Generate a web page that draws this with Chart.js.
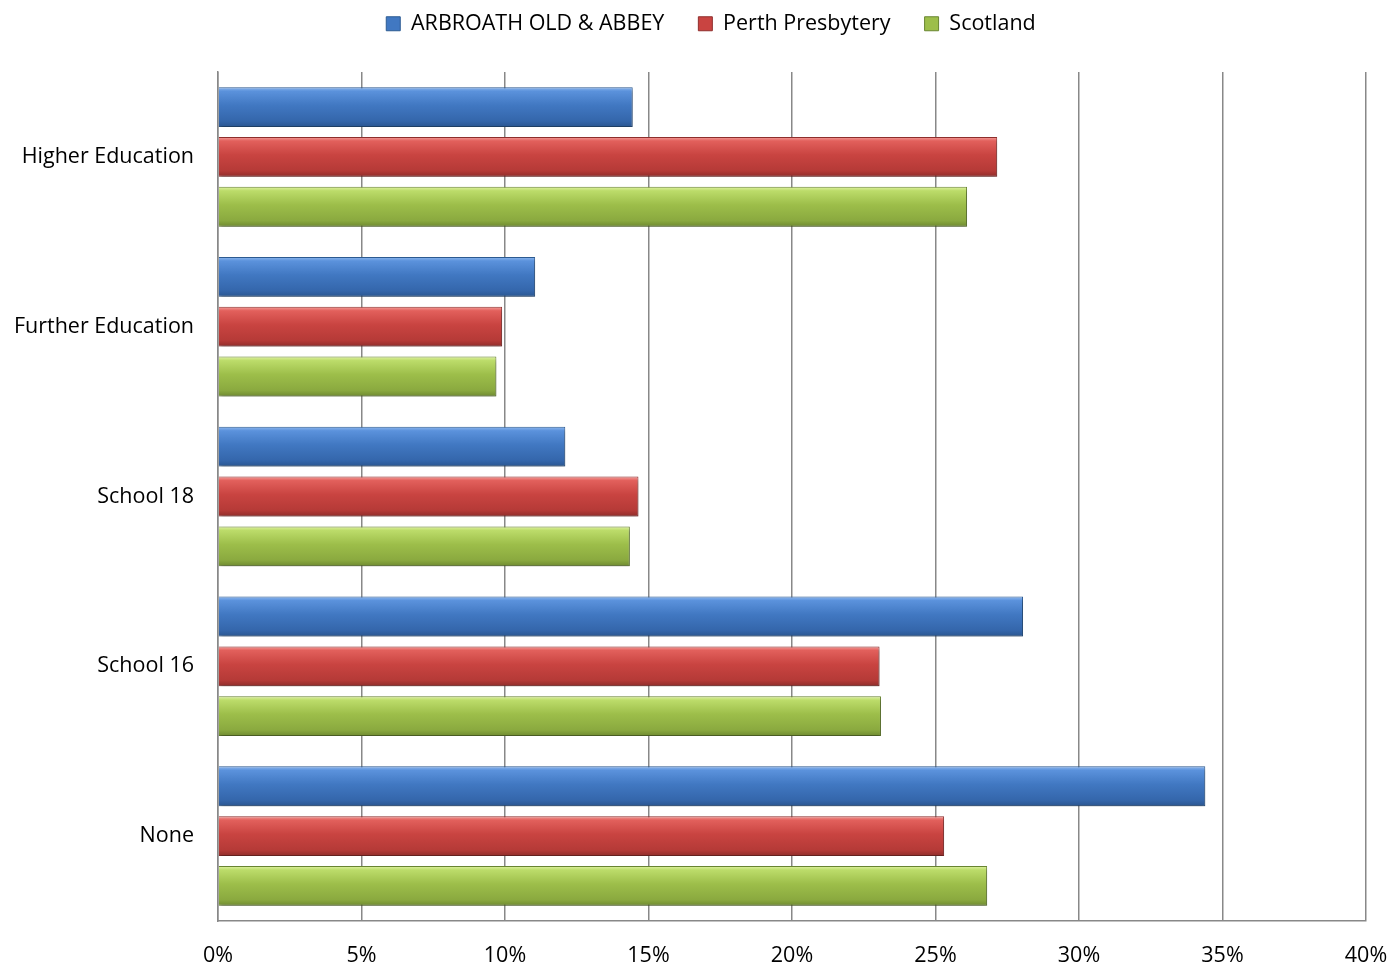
<!DOCTYPE html>
<html lang="en">
<head>
    <meta charset="UTF-8">
    <title>Education Levels</title>
    <script src="https://cdn.jsdelivr.net/npm/chart.js"></script>
    <style>
        html, body {
            margin: 0;
            padding: 0;
            background: #ffffff;
        }
        .chart-container {
            width: 1391px;
            height: 964px;
        }
    </style>
</head>
<body>
    <div class="chart-container">
        <canvas id="eduChart"></canvas>
    </div>

    <script>
        // Data
        const categories = ['Higher Education', 'Further Education', 'School 18', 'School 16', 'None'];
        const arbroath = [14.45, 11.05, 12.1, 28.05, 34.4];
        const perth = [27.15, 9.9, 14.65, 23.05, 25.3];
        const scotland = [26.1, 9.7, 14.35, 23.1, 26.8];
        const xTicks = [0, 5, 10, 15, 20, 25, 30, 35, 40];

        const catPct = 0.88;
        const barPct = 0.8;
        const fontSize = 21.5;

        // colour ramps for the bevelled bars: [top highlight, upper, middle, lower, bottom]
        const ramps = {
            blue: ['#8fb8ee', '#5b92dc', '#4178c2', '#3466ab', '#2a5690'],
            red: ['#f4a09d', '#e2605c', '#c94441', '#b53a37', '#8f2d2b'],
            green: ['#e0f2a4', '#bcdc6a', '#9dbe4a', '#8aa93f', '#6f8a31']
        };
        const borders = { blue: '#2d5b92', red: '#8f2f2d', green: '#6a8632' };
        const seriesKeys = ['blue', 'red', 'green'];

        function barFill(name) {
            return function (ctx) {
                const ramp = ramps[name];
                const yScale = ctx.chart.scales.y;
                if (ctx.type !== 'data' || !yScale || yScale.height === undefined) {
                    return ramp[2];
                }
                const center = yScale.getPixelForValue(ctx.dataIndex);
                const band = Math.abs(yScale.getPixelForValue(1) - yScale.getPixelForValue(0));
                const slot = band * catPct / 3;
                const mid = center + (ctx.datasetIndex - 1) * slot;
                const half = slot * barPct / 2;
                const g = ctx.chart.ctx.createLinearGradient(0, mid - half, 0, mid + half);
                g.addColorStop(0, ramp[0]);
                g.addColorStop(0.1, ramp[1]);
                g.addColorStop(0.45, ramp[2]);
                g.addColorStop(0.85, ramp[3]);
                g.addColorStop(1, ramp[4]);
                return g;
            };
        }

        // soft drop shadow under the bars
        const shadowPlugin = {
            id: 'barShadow',
            beforeDatasetsDraw(chart) {
                const c = chart.ctx;
                c.save();
                c.shadowColor = 'rgba(0, 0, 0, 0.35)';
                c.shadowBlur = 4;
                c.shadowOffsetX = 1;
                c.shadowOffsetY = 3;
            },
            afterDatasetsDraw(chart) {
                chart.ctx.restore();
            }
        };

        // fix the legend band height and nudge the legend row into place
        const legendTweak = {
            id: 'legendTweak',
            beforeInit(chart) {
                const legend = chart.legend;
                const origFit = legend.fit;
                const origDraw = legend.draw;
                legend.fit = function () {
                    origFit.bind(legend)();
                    this.height = 72;
                };
                legend.draw = function () {
                    const c = chart.ctx;
                    c.save();
                    c.translate(28, -21);
                    origDraw.bind(legend)();
                    c.restore();
                };
            }
        };

        Chart.defaults.font.family = '"Open Sans", Lato, sans-serif';
        Chart.defaults.color = '#000000';

        const eduChart = new Chart(document.getElementById('eduChart'), {
            type: 'bar',
            data: {
                labels: categories,
                datasets: [
                    {label: 'ARBROATH OLD & ABBEY', data: arbroath, backgroundColor: barFill('blue'), borderColor: borders.blue, borderWidth: 1},
                    {label: 'Perth Presbytery', data: perth, backgroundColor: barFill('red'), borderColor: borders.red, borderWidth: 1},
                    {label: 'Scotland', data: scotland, backgroundColor: barFill('green'), borderColor: borders.green, borderWidth: 1}
                ]
            },
            options: {
                indexAxis: 'y',
                responsive: true,
                maintainAspectRatio: false,
                animation: false,
                categoryPercentage: catPct,
                barPercentage: barPct,
                layout: {
                    padding: { left: 0, right: 25, top: 0, bottom: 0 }
                },
                scales: {
                    x: {
                        min: 0,
                        max: 40,
                        afterBuildTicks(scale) {
                            scale.ticks = xTicks.map(v => ({ value: v }));
                        },
                        afterFit(scale) {
                            scale.height = 43;
                            scale.paddingLeft = 0;
                            scale.paddingRight = 0;
                        },
                        grid: {
                            color: '#888888',
                            lineWidth: 1.5,
                            drawTicks: false
                        },
                        border: { color: '#888888', width: 1.5 },
                        ticks: {
                            padding: 22,
                            font: { size: fontSize },
                            callback: v => v + '%'
                        }
                    },
                    y: {
                        afterFit(scale) {
                            scale.width = 218;
                        },
                        grid: { display: false },
                        border: { color: '#888888', width: 1.5 },
                        ticks: {
                            padding: 16,
                            font: { size: fontSize }
                        }
                    }
                },
                plugins: {
                    legend: {
                        position: 'top',
                        labels: {
                            boxWidth: 14,
                            boxHeight: 14,
                            padding: 34,
                            font: { size: fontSize },
                            generateLabels(chart) {
                                return chart.data.datasets.map((ds, i) => ({
                                    text: ds.label,
                                    fillStyle: ramps[seriesKeys[i]][2],
                                    strokeStyle: borders[seriesKeys[i]],
                                    lineWidth: 1,
                                    fontColor: '#000000',
                                    hidden: !chart.isDatasetVisible(i),
                                    datasetIndex: i
                                }));
                            }
                        }
                    },
                    tooltip: { enabled: false }
                }
            },
            plugins: [shadowPlugin, legendTweak]
        });
    </script>
</body>
</html>
